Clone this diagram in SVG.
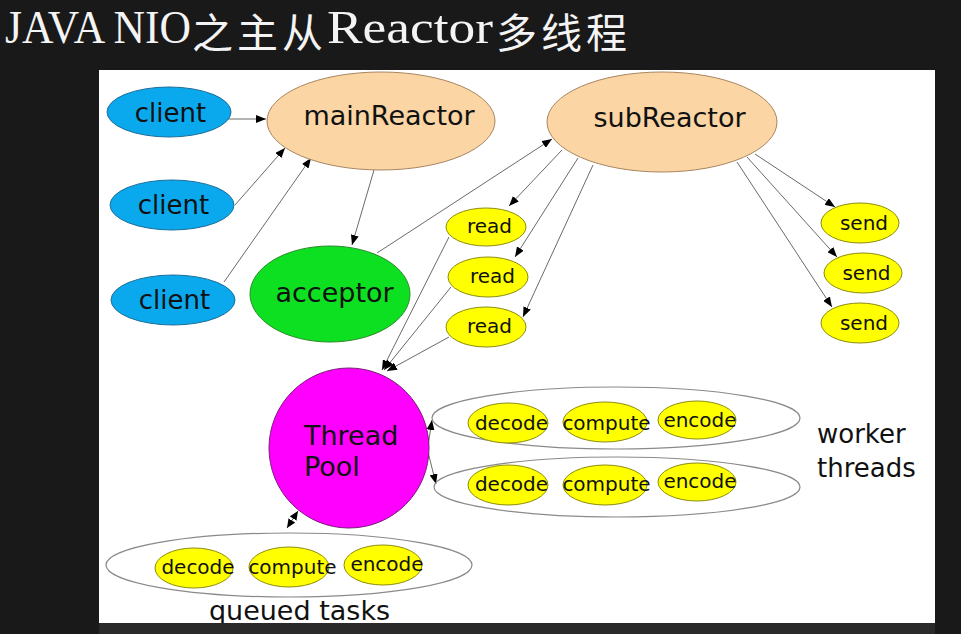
<svg xmlns="http://www.w3.org/2000/svg" width="961" height="634" viewBox="0 0 961 634">
<style>
.t{font-family:"DejaVu Sans","Liberation Sans",sans-serif;fill:#111}
.lg{font-size:27px}
.md{font-size:26px}
.sm{font-size:20px}
.client{fill:#0AA8EC;stroke:#1D6E9A;stroke-width:1}
.reactor{fill:#FBD5A3;stroke:#A88560;stroke-width:1}
.acc{fill:#0CE020;stroke:#2A8A2A;stroke-width:1}
.yel{fill:#FFFF00;stroke:#8C8C10;stroke-width:1}
.pool{fill:#FF00FF;stroke:#7A1A7A;stroke-width:1}
.grp{fill:none;stroke:#8a8a8a;stroke-width:1.2}
.e{stroke:#6a6a6a;stroke-width:1;fill:none;marker-end:url(#ah)}
.title{fill:#f4f4f4}
.tl{font-family:"Liberation Serif","DejaVu Serif",serif;font-size:47px}
.tc{font-family:"Noto Sans CJK SC",sans-serif;font-size:41px;letter-spacing:4px}
</style>
<defs>
<marker id="ah" markerUnits="userSpaceOnUse" markerWidth="10" markerHeight="8" refX="10" refY="4" orient="auto">
<path d="M0,0 L10,4 L0,8 z" fill="#000"/>
</marker>
<marker id="ah2" markerUnits="userSpaceOnUse" markerWidth="9" markerHeight="8" refX="9" refY="4" orient="auto-start-reverse">
<path d="M0,0 L9,4 L0,8 z" fill="#000"/>
</marker>
</defs>
<rect x="0" y="0" width="961" height="634" fill="#191919"/>
<g id="title">
<text x="5" y="43" class="title tl" textLength="186" lengthAdjust="spacingAndGlyphs">JAVA NIO</text>
<text x="192" y="47.6" class="title tc">之主从</text>
<text x="327" y="43" class="title tl" textLength="166" lengthAdjust="spacingAndGlyphs">Reactor</text>
<text x="496" y="47.6" class="title tc">多线程</text>
</g>
<rect id="panel" x="99" y="70" width="836" height="553" fill="#ffffff"/>
<g id="connectors">
<line class="e" x1="221" y1="119" x2="266" y2="119"/>
<line class="e" x1="235" y1="205" x2="285" y2="148"/>
<line class="e" x1="224" y1="282" x2="311" y2="158"/>
<line class="e" x1="374" y1="170" x2="352" y2="245"/>
<line class="e" x1="377" y1="253" x2="552" y2="139"/>
<line class="e" x1="562" y1="150" x2="509" y2="206"/>
<line class="e" x1="578" y1="158" x2="515" y2="257"/>
<line class="e" x1="593" y1="165" x2="523" y2="317"/>
<line class="e" x1="755" y1="154" x2="835" y2="207"/>
<line class="e" x1="747" y1="157" x2="837" y2="257"/>
<line class="e" x1="737" y1="162" x2="832" y2="307"/>
<line class="e" x1="449" y1="237" x2="382" y2="370"/>
<line class="e" x1="451" y1="287" x2="384" y2="370"/>
<line class="e" x1="449" y1="337" x2="387" y2="371"/>
<line class="e" x1="428" y1="446" x2="432" y2="420"/>
<line class="e" x1="428" y1="452" x2="436" y2="484"/>
<line x1="287" y1="528" x2="298" y2="511" stroke="#6a6a6a" stroke-width="1" marker-start="url(#ah2)" marker-end="url(#ah2)"/>
</g>
<g id="client1"><ellipse class="client" cx="169" cy="112" rx="62" ry="25"/><text class="t md" x="170.5" y="122" text-anchor="middle">client</text></g>
<g id="client2"><ellipse class="client" cx="172" cy="205" rx="62" ry="25"/><text class="t md" x="173.5" y="214" text-anchor="middle">client</text></g>
<g id="client3"><ellipse class="client" cx="173" cy="300" rx="62" ry="25"/><text class="t md" x="174.5" y="309" text-anchor="middle">client</text></g>
<g id="mainReactor"><ellipse class="reactor" cx="381" cy="121" rx="114" ry="49"/><text class="t lg" x="389" y="125" text-anchor="middle">mainReactor</text></g>
<g id="subReactor"><ellipse class="reactor" cx="662" cy="122" rx="115" ry="50"/><text class="t lg" x="669.5" y="127" text-anchor="middle">subReactor</text></g>
<g id="acceptor"><ellipse class="acc" cx="330" cy="294" rx="80" ry="48"/><text class="t lg" x="334.5" y="302" text-anchor="middle">acceptor</text></g>
<g id="read1"><ellipse class="yel" cx="486" cy="227" rx="40" ry="19"/><text class="t sm" x="489.5" y="233" text-anchor="middle">read</text></g>
<g id="read2"><ellipse class="yel" cx="488" cy="277" rx="40" ry="20"/><text class="t sm" x="492.5" y="283" text-anchor="middle">read</text></g>
<g id="read3"><ellipse class="yel" cx="486" cy="327" rx="40" ry="20"/><text class="t sm" x="489.5" y="333" text-anchor="middle">read</text></g>
<g id="send1"><ellipse class="yel" cx="860" cy="223" rx="39" ry="20"/><text class="t sm" x="864" y="230" text-anchor="middle">send</text></g>
<g id="send2"><ellipse class="yel" cx="863" cy="273" rx="39" ry="20"/><text class="t sm" x="866.5" y="280" text-anchor="middle">send</text></g>
<g id="send3"><ellipse class="yel" cx="860" cy="323" rx="39" ry="20"/><text class="t sm" x="864" y="330" text-anchor="middle">send</text></g>
<g id="threadPool"><circle class="pool" cx="349" cy="448" r="80"/><text class="t lg" x="304" y="445">Thread</text><text class="t lg" x="304" y="476">Pool</text></g>
<g id="worker1">
<ellipse class="grp" cx="616" cy="418" rx="184" ry="31"/>
<ellipse class="yel" cx="508" cy="423" rx="40" ry="20"/>
<ellipse class="yel" cx="605" cy="422" rx="42" ry="20"/>
<ellipse class="yel" cx="697" cy="420" rx="39" ry="19"/>
<text class="t sm" x="511.5" y="430" text-anchor="middle">decode</text>
<text class="t sm" x="606.5" y="430" text-anchor="middle">compute</text>
<text class="t sm" x="700" y="427" text-anchor="middle">encode</text>
</g>
<g id="worker2">
<ellipse class="grp" cx="617" cy="487" rx="183" ry="30"/>
<ellipse class="yel" cx="508" cy="485" rx="40" ry="20"/>
<ellipse class="yel" cx="605" cy="485" rx="42" ry="20"/>
<ellipse class="yel" cx="697" cy="482" rx="39" ry="19"/>
<text class="t sm" x="511.5" y="491" text-anchor="middle">decode</text>
<text class="t sm" x="606.5" y="491" text-anchor="middle">compute</text>
<text class="t sm" x="700" y="488" text-anchor="middle">encode</text>
</g>
<g id="workerLabel"><text class="t md" x="817" y="443">worker</text><text class="t md" x="817" y="477">threads</text></g>
<g id="queue">
<ellipse class="grp" cx="289" cy="565" rx="183" ry="32"/>
<ellipse class="yel" cx="194" cy="568" rx="39" ry="20"/>
<ellipse class="yel" cx="289" cy="567" rx="40" ry="20"/>
<ellipse class="yel" cx="383" cy="565" rx="39" ry="20"/>
<text class="t sm" x="198" y="574" text-anchor="middle">decode</text>
<text class="t sm" x="292.5" y="574" text-anchor="middle">compute</text>
<text class="t sm" x="387" y="571" text-anchor="middle">encode</text>
</g>
<g id="queueLabel"><text class="t lg" x="299.5" y="620" text-anchor="middle">queued tasks</text></g>
<rect x="99" y="623" width="836" height="11" fill="#2a2a2a"/>
</svg>
